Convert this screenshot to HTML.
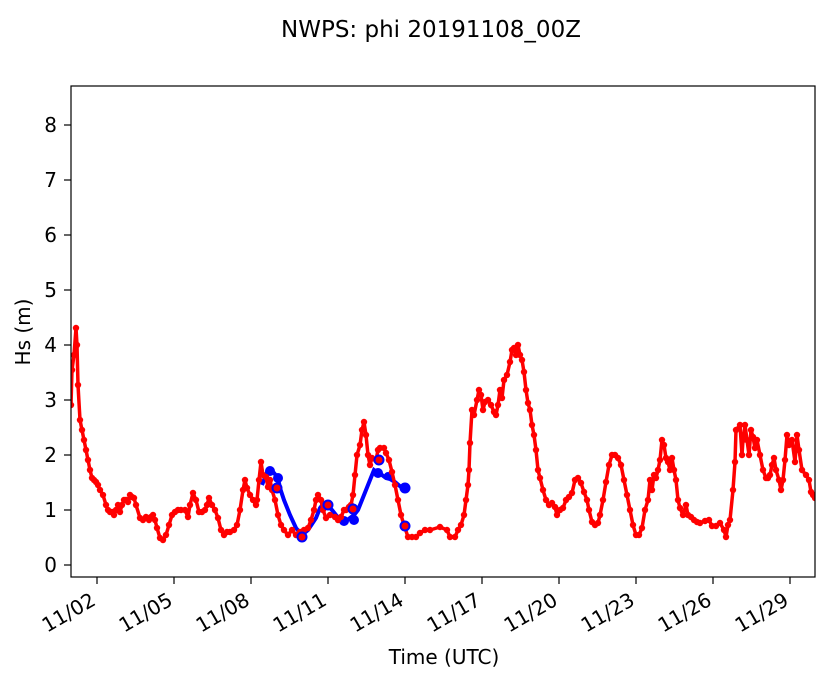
<!DOCTYPE html>
<html><head><meta charset="utf-8"><style>body{margin:0;background:#fff}svg{display:block;font-family:"DejaVu Sans","Liberation Sans",sans-serif}</style></head><body>
<svg width="833" height="681" viewBox="0 0 833 681">
<defs>
<marker id="r" markerWidth="8" markerHeight="8" refX="4" refY="4" markerUnits="userSpaceOnUse"><circle cx="4" cy="4" r="3.2" fill="#f00"/></marker>
<clipPath id="c"><rect x="71" y="86" width="744" height="491"/></clipPath>
</defs>
<text x="431" y="37" font-size="23" text-anchor="middle">NWPS: phi 20191108_00Z</text>
<g clip-path="url(#c)">
<polyline fill="none" stroke="#00f" stroke-width="4" points="262,485 268,470 274,473 278,478 280,488 284,500 290,515 296,528 302,535 308,530 312,524 316,518 320,508 324,503 328,506 332,510 336,515 340,520 345,522 350,518 354,515 358,510 362,500 366,490 370,480 374,470 378,473 382,475 386,478 390,479 395,482 401,487 405,488"/>
<g fill="#00f"><circle cx="270" cy="471" r="5"/><circle cx="278" cy="478" r="5"/><circle cx="344" cy="521" r="5"/><circle cx="354" cy="520" r="5"/><circle cx="378" cy="473" r="5"/><circle cx="388" cy="476" r="4"/><circle cx="405" cy="488" r="5.5"/></g>
<polyline fill="none" stroke="#f00" stroke-width="3.5" stroke-linejoin="round" marker-start="url(#r)" marker-mid="url(#r)" marker-end="url(#r)" points="71,405 72,370 74,355 76,328 77,345 78,385 80,420 82,430 84,440 86,450 88,460 90,470 92,478 94,480 96,482 98,485 100,490 103,495 106,505 108,510 110,512 112,512 114,515 116,510 118,505 120,512 122,505 124,500 126,500 128,502 130,495 132,497 134,498 136,505 140,518 143,520 146,517 149,520 151,517 153,515 155,520 157,528 160,538 163,540 166,535 169,525 172,515 175,512 178,510 181,510 185,510 188,517 190,505 193,493 196,500 199,512 202,512 205,510 207,505 209,498 212,505 215,510 218,518 221,530 224,535 227,532 230,532 234,530 237,525 240,510 243,490 245,480 247,488 250,495 253,500 256,505 257,500 259,480 261,462 263,475 266,477 268,487 270,480 272,490 275,500 278,515 281,525 284,530 288,535 292,530 296,535 300,532 304,530 308,528 311,520 314,510 316,500 318,495 321,500 323,510 326,518 330,515 335,517 338,520 341,517 344,510 346,510 349,507 351,505 353,495 355,475 357,455 360,445 362,430 364,422 366,435 368,455 370,465 372,458 376,460 378,450 380,448 384,448 386,453 389,460 392,472 395,485 398,500 401,515 404,525 408,537 412,537 416,537 420,533 425,530 430,530 440,527 447,530 450,537 455,537 458,530 461,525 464,515 466,500 468,485 469,470 470,443 472,410 474,415 477,400 479,390 481,395 483,410 485,402 488,400 491,405 494,412 496,415 498,405 500,390 502,398 504,380 507,375 510,362 512,350 514,348 516,355 518,345 520,355 522,360 524,372 526,390 528,403 530,410 532,425 534,435 536,450 538,470 540,478 543,490 546,500 549,505 552,503 555,507 557,515 560,510 563,508 566,500 569,497 572,493 575,480 578,478 581,483 584,492 587,500 589,510 592,522 595,525 598,523 600,515 603,500 606,482 609,465 612,455 615,455 618,458 621,465 624,480 627,495 630,510 633,525 636,535 639,535 642,528 645,510 648,500 650,480 652,490 654,475 656,478 658,470 660,460 662,440 664,445 666,458 668,462 670,470 672,458 674,470 676,480 678,500 680,508 683,515 686,505 688,515 691,517 694,520 697,522 700,523 705,521 709,520 712,526 716,526 720,523 724,530 726,537 728,525 730,520 733,490 735,462 736,430 740,425 742,455 743,440 745,425 747,440 749,455 751,430 753,437 755,448 757,440 760,455 763,470 766,478 768,478 770,475 772,465 774,458 776,470 779,480 781,490 783,480 785,460 787,435 789,445 792,440 795,462 797,435 799,450 802,470 806,475 809,480 811,492 813,495 815,498"/>
<g fill="#f00" stroke="#00f" stroke-width="2"><circle cx="302" cy="537" r="4.5"/><circle cx="328" cy="505" r="4.5"/><circle cx="353" cy="509" r="4.5"/><circle cx="379" cy="460" r="4.5"/><circle cx="405" cy="526" r="4.5"/><circle cx="277" cy="488" r="4.5"/></g>
</g>
<rect x="71" y="86" width="744" height="491" fill="none" stroke="#000" stroke-width="1.2"/>
<g stroke="#000" stroke-width="1.2">
<line x1="64" y1="565" x2="71" y2="565"/><line x1="64" y1="510" x2="71" y2="510"/><line x1="64" y1="455" x2="71" y2="455"/><line x1="64" y1="400" x2="71" y2="400"/><line x1="64" y1="345" x2="71" y2="345"/><line x1="64" y1="290" x2="71" y2="290"/><line x1="64" y1="235" x2="71" y2="235"/><line x1="64" y1="180" x2="71" y2="180"/><line x1="64" y1="125" x2="71" y2="125"/>
<line x1="97" y1="577" x2="97" y2="584"/><line x1="174" y1="577" x2="174" y2="584"/><line x1="251" y1="577" x2="251" y2="584"/><line x1="328" y1="577" x2="328" y2="584"/><line x1="405" y1="577" x2="405" y2="584"/><line x1="482" y1="577" x2="482" y2="584"/><line x1="559" y1="577" x2="559" y2="584"/><line x1="636" y1="577" x2="636" y2="584"/><line x1="713" y1="577" x2="713" y2="584"/><line x1="790" y1="577" x2="790" y2="584"/>
</g>
<g font-size="20" text-anchor="end">
<text x="57" y="572">0</text><text x="57" y="517">1</text><text x="57" y="462">2</text><text x="57" y="407">3</text><text x="57" y="352">4</text><text x="57" y="297">5</text><text x="57" y="242">6</text><text x="57" y="187">7</text><text x="57" y="132">8</text>
<text transform="translate(97,604) rotate(-30)">11/02</text>
<text transform="translate(174,604) rotate(-30)">11/05</text>
<text transform="translate(251,604) rotate(-30)">11/08</text>
<text transform="translate(328,604) rotate(-30)">11/11</text>
<text transform="translate(405,604) rotate(-30)">11/14</text>
<text transform="translate(482,604) rotate(-30)">11/17</text>
<text transform="translate(559,604) rotate(-30)">11/20</text>
<text transform="translate(636,604) rotate(-30)">11/23</text>
<text transform="translate(713,604) rotate(-30)">11/26</text>
<text transform="translate(790,604) rotate(-30)">11/29</text>
</g>
<text x="444" y="664" font-size="20" text-anchor="middle">Time (UTC)</text>
<text transform="translate(30,332) rotate(-90)" font-size="20" text-anchor="middle">Hs (m)</text>
</svg>
</body></html>
